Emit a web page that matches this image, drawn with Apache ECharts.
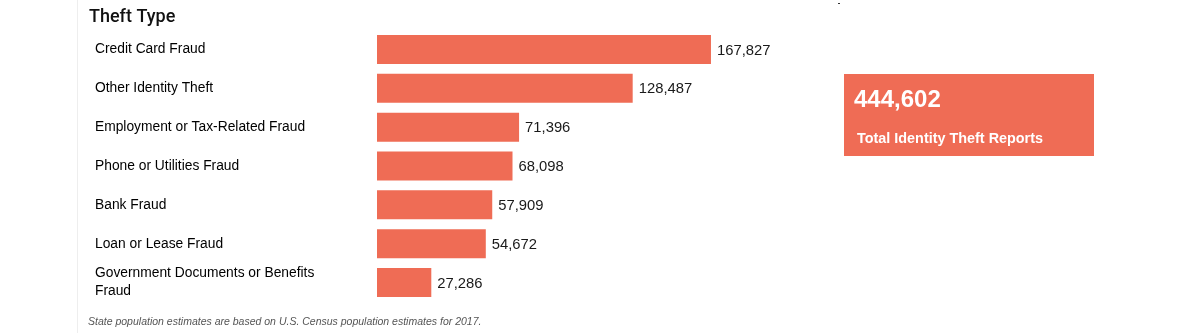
<!DOCTYPE html>
<html>
<head>
<meta charset="utf-8">
<script src="https://cdn.jsdelivr.net/npm/echarts@6/dist/echarts.min.js"></script>
<style>
  html, body { margin: 0; padding: 0; background: #fff; }
  #chart { width: 1178px; height: 333px; }
</style>
</head>
<body>
<div id="chart"></div>
<script>
// Identity theft reports by theft type
const categories = [
  'Credit Card Fraud',
  'Other Identity Theft',
  'Employment or Tax-Related Fraud',
  'Phone or Utilities Fraud',
  'Bank Fraud',
  'Loan or Lease Fraud',
  'Government Documents or Benefits Fraud'
];
const reports = [167827, 128487, 71396, 68098, 57909, 54672, 27286];
const totalReports = 444602;

const BAR_COLOR = '#EF6C55';
const fmt = v => v.toLocaleString('en-US');

const chart = echarts.init(document.getElementById('chart'));
chart.setOption({
  animation: false,
  textStyle: { fontFamily: '"Liberation Sans", Arial, sans-serif' },
  grid: { left: 377, top: 30, width: 398, height: 272 },
  xAxis: {
    type: 'value', min: 0, max: 200000,
    show: false
  },
  yAxis: {
    type: 'category',
    data: categories,
    inverse: true,
    axisLine: { show: false },
    axisTick: { show: false },
    axisLabel: {
      align: 'left',
      margin: 282,
      fontSize: 13.8,
      color: '#000',
      width: 240,
      overflow: 'break',
      lineHeight: 18,
      padding: [3, 0, 0, 0]
    }
  },
  series: [{
    type: 'bar',
    data: reports,
    barWidth: 29,
    itemStyle: { color: BAR_COLOR },
    label: {
      show: true,
      position: 'right',
      distance: 6,
      offset: [0, 1],
      fontSize: 14.8,
      color: '#1a1a1a',
      formatter: p => fmt(p.value)
    }
  }],
  graphic: [
    { type: 'line', shape: { x1: 77.5, y1: 0, x2: 77.5, y2: 333 },
      style: { stroke: '#eeeeee', lineWidth: 1 } },
    { type: 'text', left: 89, top: 8,
      style: { text: 'Theft Type', font: '500 18px Roboto, sans-serif', fill: '#111' } },
    { type: 'rect', shape: { x: 838, y: 3, width: 2, height: 1 }, style: { fill: '#333' } },
    { type: 'rect', shape: { x: 844, y: 74, width: 250, height: 82 },
      style: { fill: BAR_COLOR } },
    { type: 'text', left: 854, top: 88,
      style: { text: fmt(totalReports), font: 'bold 24px "Liberation Sans", Arial, sans-serif', fill: '#fff' } },
    { type: 'text', left: 857, top: 132,
      style: { text: 'Total Identity Theft Reports', font: 'bold 14.4px "Liberation Sans", Arial, sans-serif', fill: '#fff' } },
    { type: 'text', left: 88, top: 317,
      style: { text: 'State population estimates are based on U.S. Census population estimates for 2017.',
               font: 'italic 10.5px "Liberation Sans", Arial, sans-serif', fill: '#555' } }
  ]
});
</script>
</body>
</html>
